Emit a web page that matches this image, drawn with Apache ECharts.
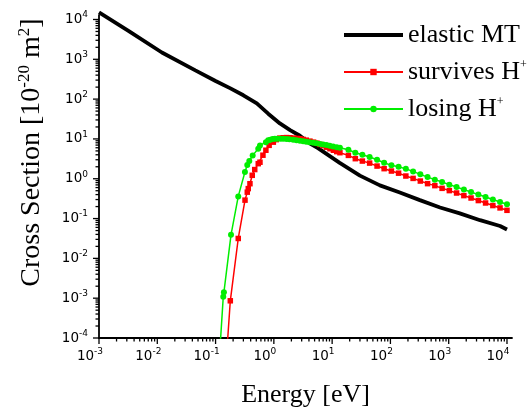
<!DOCTYPE html>
<html><head><meta charset="utf-8">
<script src="https://cdn.jsdelivr.net/npm/echarts@6/dist/echarts.min.js"></script>
<style>html,body{margin:0;padding:0;background:#fff}#c{width:531px;height:414px}</style>
</head><body><div id="c"></div>
<script>
// ---- data (Energy [eV], Cross Section [1e-20 m^2]) ----
const elasticX = [0.001, 0.0032, 0.012, 0.045, 0.1, 0.18, 0.3, 0.51, 0.8, 1.27, 1.9, 2.8, 4.2, 5.8, 13.5, 30, 66, 145, 320, 710, 1550, 3450, 7600, 10000];
const elasticY = [15000, 5200, 1480, 525, 285, 186, 125, 78, 43, 24.5, 16.6, 12, 7.6, 5.8, 2.5, 1.2, 0.68, 0.45, 0.29, 0.19, 0.135, 0.091, 0.065, 0.053];

const sparseX = [19, 25, 33, 44, 59, 78, 104, 138, 184, 245, 326, 434, 578, 770, 1025, 1365, 1820, 2420, 3225, 4290, 5720, 7600, 10000];

const survivesX = [0.158, 0.179, 0.245, 0.32, 0.35, 0.364, 0.389, 0.426, 0.47, 0.54, 0.578, 0.65, 0.73, 0.83, 0.98, 1.1, 1.27, 1.45, 1.65, 1.89, 2.2, 2.5, 2.8, 3.2, 3.6, 4.16, 4.8, 5.5, 6.18, 7.0, 8.0, 9.17, 10.5, 12.0, 13.6].concat(sparseX);
const survivesY = [6e-5, 8.6e-4, 0.0316, 0.29, 0.46, 0.565, 0.75, 1.22, 1.7, 2.39, 2.6, 3.9, 5.2, 6.9, 8.3, 9.6, 10.5, 10.7, 10.8, 10.7, 10.5, 10.3, 10.1, 9.7, 9.3, 8.8, 8.3, 7.8, 7.28, 6.8, 6.2, 5.68, 5.2, 4.8, 4.51,
  3.86, 3.19, 2.78, 2.47, 2.08, 1.79, 1.56, 1.38, 1.17, 1.02, 0.875, 0.753, 0.671, 0.574, 0.503, 0.438, 0.377, 0.328, 0.283, 0.246, 0.212, 0.185, 0.161];

const losingX = [0.118, 0.1355, 0.139, 0.184, 0.245, 0.319, 0.35, 0.379, 0.433, 0.54, 0.578, 0.73, 0.80, 0.87, 0.95, 1.04, 1.15, 1.3, 1.45, 1.65, 1.85, 2.15, 2.45, 2.8, 3.19, 3.6, 4.1, 4.74, 5.4, 6.2, 7.03, 8.0, 9.1, 10.4, 12.0, 13.6].concat(sparseX);
const losingY = [4.5e-5, 1.08e-3, 1.4e-3, 0.039, 0.36, 1.48, 2.2, 2.78, 3.86, 5.67, 6.87, 8.3, 9.2, 9.6, 9.9, 10.1, 10.1, 10.1, 10.1, 10.0, 9.8, 9.55, 9.3, 9.05, 8.8, 8.55, 8.3, 8.0, 7.75, 7.5, 7.28, 7.0, 6.75, 6.49, 6.2, 6.0,
  5.36, 4.51, 4.02, 3.50, 3.01, 2.53, 2.17, 2.01, 1.77, 1.53, 1.29, 1.10, 0.95, 0.826, 0.711, 0.62, 0.533, 0.465, 0.40, 0.348, 0.30, 0.261, 0.228];

const seriesNames = ['elastic MT', 'survives H+', 'losing H+'];
const xDecades = [-3, -2, -1, 0, 1, 2, 3, 4];
const yDecades = [-4, -3, -2, -1, 0, 1, 2, 3, 4];

// ---- build ----
const zip = (a, b) => a.map((v, i) => [v, b[i]]);
const X_MIN = Math.pow(10, xDecades[0]), X_END = Math.pow(10, xDecades[xDecades.length - 1] + 0.086);
const Y_MIN = Math.pow(10, yDecades[0]), Y_END = Math.pow(10, yDecades[yDecades.length - 1] + 0.11);
const tickVals = (decs) => { const r = []; decs.forEach((d, i) => { r.push([Math.pow(10, d), 1]); if (i < decs.length - 1) for (let m = 2; m <= 9; m++) r.push([m * Math.pow(10, d), 0]); }); return r; };

const SERIF = "'Liberation Serif','Times New Roman',serif";
const SANS = "'DejaVu Sans',sans-serif";
const tickFmt = v => { const e = Math.log10(v); return Math.abs(e - Math.round(e)) > 0.01 ? '' : '{b|10}{s|' + Math.round(e) + '}'; };
const tickRich = { b: { fontFamily: SANS, fontSize: 13.5, color: '#000' }, s: { fontFamily: SANS, fontSize: 9, color: '#000', padding: [0, 0, 9, 0] } };
const TICK = { stroke: '#000', lineWidth: 1.3 };

const chart = echarts.init(document.getElementById('c'), null, { renderer: 'canvas' });
chart.setOption({
  animation: false,
  backgroundColor: '#fff',
  grid: { left: 99, right: 19, top: 15.1, bottom: 76, containLabel: false, outerBoundsMode: 'none' },
  legend: {
    data: [
      { name: seriesNames[0], itemStyle: { opacity: 0 }, lineStyle: { width: 4, color: '#000' } },
      { name: seriesNames[1] },
      { name: seriesNames[2] }
    ],
    orient: 'vertical', left: 337, top: 17,
    itemWidth: 59, itemHeight: 8, itemGap: 11,
    formatter: n => n.endsWith('H+') ? '{t|' + n.slice(0, -1) + '}{s|+}' : '{t|' + n + '}',
    textStyle: { rich: { t: { fontFamily: SERIF, fontSize: 26, color: '#000', lineHeight: 26 }, s: { fontFamily: SERIF, fontSize: 12, color: '#000', padding: [0, 0, 14, 0] } } }
  },
  xAxis: {
    type: 'log', logBase: 10, min: X_MIN, max: X_END, splitNumber: 10,
    name: 'Energy [eV]', nameLocation: 'middle', nameGap: 44,
    nameTextStyle: { fontFamily: SERIF, fontSize: 26, color: '#000' },
    axisLine: { lineStyle: { color: '#000', width: 1.8 } },
    axisTick: { show: false },
    axisLabel: { formatter: tickFmt, rich: tickRich, margin: 9, padding: [0, 18, 0, 0], showMaxLabel: false },
    splitLine: { show: false }
  },
  yAxis: {
    type: 'log', logBase: 10, min: Y_MIN, max: Y_END, splitNumber: 10,
    name: '{t|Cross Section [10}{s|-20}{t| m}{s|2}{t|]}', nameLocation: 'middle', nameRotate: 90, nameGap: 52,
    nameTextStyle: { padding: [0, 0, 0, 48], rich: { t: { fontFamily: SERIF, fontSize: 28, color: '#000' }, s: { fontFamily: SERIF, fontSize: 17, color: '#000', padding: [0, 0, 14, 0] } } },
    axisLine: { lineStyle: { color: '#000', width: 1.8 } },
    axisTick: { show: false },
    axisLabel: { formatter: tickFmt, rich: tickRich, margin: 11, showMaxLabel: false },
    splitLine: { show: false }
  },
  series: [
    { name: seriesNames[0], type: 'line', data: zip(elasticX, elasticY), showSymbol: false, symbol: 'none',
      lineStyle: { color: '#000', width: 3.8 }, itemStyle: { color: '#000' }, clip: false, z: 2 },
    { name: seriesNames[1], type: 'line', data: zip(survivesX, survivesY), symbol: 'rect', symbolSize: 5.5,
      lineStyle: { color: '#ff0000', width: 1.5 }, itemStyle: { color: '#ff0000' }, clip: true, z: 3 },
    { name: seriesNames[2], type: 'line', data: zip(losingX, losingY), symbol: 'circle', symbolSize: 6,
      lineStyle: { color: '#00ee00', width: 1.5 }, itemStyle: { color: '#00ee00' }, clip: true, z: 4 },
    { type: 'custom', silent: true, clip: false, data: tickVals(xDecades).map(t => [t[0], Y_MIN, t[1]]),
      renderItem: (p, api) => { const c = api.coord([api.value(0), api.value(1)]); const L = api.value(2) ? 6 : 3.5;
        return { type: 'line', shape: { x1: c[0], y1: c[1], x2: c[0], y2: c[1] + L }, style: TICK }; } },
    { type: 'custom', silent: true, clip: false, data: tickVals(yDecades).map(t => [X_MIN, t[0], t[1]]),
      renderItem: (p, api) => { const c = api.coord([api.value(0), api.value(1)]); const L = api.value(2) ? 6 : 3.5;
        return { type: 'line', shape: { x1: c[0] - L, y1: c[1], x2: c[0], y2: c[1] }, style: TICK }; } }
  ]
});
</script></body></html>
